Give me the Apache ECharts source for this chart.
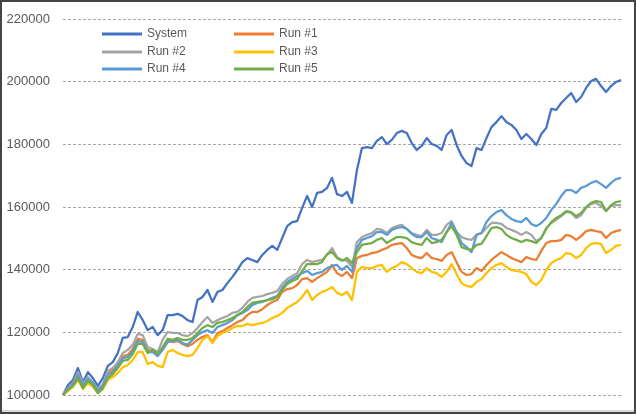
<!DOCTYPE html>
<html>
<head>
<meta charset="utf-8">
<script src="https://cdn.jsdelivr.net/npm/echarts@6/dist/echarts.min.js"></script>
<style>
html,body{margin:0;padding:0;background:#fff;}
#wrap{position:relative;width:636px;height:414px;overflow:hidden;}
#chart{position:absolute;left:0;top:0;width:636px;height:414px;}
#frame{position:absolute;left:0;top:0;width:636px;height:414px;box-sizing:border-box;border:2px solid #444;pointer-events:none;}
#shade{position:absolute;left:2px;bottom:2px;width:632px;height:2px;background:#d9d9d9;pointer-events:none;}
</style>
</head>
<body>
<div id="wrap"><div id="chart"></div><div id="shade"></div><div id="frame"></div></div>
<script>
// values in thousands
const systemK = [100.0,103.2,104.8,108.6,104.1,107.3,105.4,102.9,105.4,109.3,
110.5,113.4,118.2,118.5,121.7,126.5,123.9,120.7,121.7,119.1,
120.7,125.5,125.5,125.9,125.2,123.9,123.3,130.3,131.3,133.5,
129.7,132.9,133.5,135.7,137.7,139.9,142.4,143.7,143.1,142.4,
144.7,146.3,147.6,146.3,150.1,153.9,155.2,155.5,159.7,163.5,
160.0,164.5,164.8,166.1,169.3,164.1,163.5,164.8,161.3,171.8,
178.8,179.1,178.8,181.1,182.3,180.1,181.4,183.6,184.3,183.6,
180.4,178.2,179.5,182.0,180.1,179.5,178.2,183.0,184.6,179.8,
176.3,174.0,173.1,178.8,178.2,182.0,185.5,187.1,189.0,187.1,
186.2,184.6,181.7,183.3,181.7,179.8,183.3,185.2,191.3,191.0,
193.2,194.8,196.4,193.5,195.1,198.0,200.2,200.9,198.6,196.7,
198.6,199.9,200.5];
const run1K = [100.0,102.2,103.8,107.0,103.2,105.4,103.8,101.6,103.2,107.0,
108.0,109.9,112.4,112.8,114.7,117.9,117.6,114.4,114.0,112.8,
115.0,117.6,116.9,117.2,116.3,115.6,116.3,117.6,118.5,119.1,
116.9,119.8,120.4,121.4,122.3,123.3,123.9,125.5,126.5,126.5,
127.4,128.7,129.7,130.3,132.9,133.8,134.1,135.1,137.0,137.3,
136.1,137.3,138.3,139.3,141.5,138.9,138.0,139.3,137.3,143.7,
144.4,144.7,145.3,145.6,146.3,146.9,147.9,148.2,148.5,146.9,
144.7,144.0,143.7,145.3,143.7,143.4,142.8,144.7,145.6,142.4,
139.3,138.3,138.6,140.5,139.6,141.5,143.1,144.4,145.6,144.7,
143.7,143.1,142.4,144.0,143.4,143.1,146.0,148.5,149.1,149.1,
149.5,151.1,150.7,149.5,150.7,152.3,152.7,152.3,152.0,150.1,
151.7,152.3,152.7];
const run2K = [100.0,102.2,103.8,107.3,103.5,105.7,104.1,101.9,103.5,107.7,
108.6,110.5,113.4,114.4,116.0,119.5,119.1,115.3,114.7,113.7,
117.6,120.1,119.8,119.8,119.1,118.8,119.8,121.4,123.3,124.9,
123.0,123.9,124.6,125.2,126.2,126.5,127.8,129.7,131.0,131.3,
131.6,132.2,132.6,133.2,135.4,137.0,138.0,138.9,141.8,143.1,
142.4,142.8,143.1,144.7,146.9,144.0,143.1,142.8,140.9,148.8,
150.4,151.1,151.7,153.0,152.7,151.7,153.3,153.9,154.3,153.0,
151.7,151.1,150.7,152.7,151.1,151.1,151.7,154.3,155.5,152.0,
150.4,149.8,149.5,151.1,151.7,153.3,154.9,154.9,154.6,153.3,
152.7,152.0,151.1,152.0,151.1,149.1,150.1,153.3,154.9,155.9,
157.1,158.4,158.1,156.5,157.4,159.7,161.0,161.3,160.3,158.7,
160.3,160.6,160.6];
const run3K = [100.0,101.3,102.6,104.8,101.9,103.8,102.6,100.6,101.9,104.8,
105.7,107.0,108.9,109.6,111.2,113.7,113.7,109.9,110.5,109.3,
108.9,113.7,114.4,113.4,112.8,112.4,112.8,115.0,117.6,118.8,
116.6,118.8,119.8,120.4,121.4,122.0,122.0,122.7,122.3,122.7,
123.0,123.6,124.6,125.2,126.2,127.8,128.7,129.7,131.3,133.5,
130.3,131.9,132.9,133.5,134.5,132.6,131.9,132.9,130.3,139.3,
140.9,140.5,140.5,141.2,141.5,139.3,140.5,141.2,142.4,141.8,
140.5,139.3,138.9,140.5,139.3,138.9,137.7,139.3,141.8,138.6,
135.7,134.8,134.5,136.1,137.0,138.9,140.5,141.5,142.1,140.9,
139.9,139.6,139.3,138.6,136.1,135.1,136.7,139.9,142.1,143.1,
143.7,145.3,145.0,143.7,144.7,146.9,148.2,148.5,148.2,145.3,
146.3,147.6,147.9];
const run4K = [100.0,101.9,103.5,106.4,102.9,105.1,103.8,101.3,102.9,106.4,
107.3,109.3,111.8,112.1,114.0,117.2,116.9,113.7,113.7,112.4,
114.4,116.9,117.2,117.6,116.6,116.0,117.6,119.1,120.1,120.7,
119.8,121.7,122.3,123.0,123.9,125.5,126.2,127.1,128.7,129.4,
129.7,130.3,131.0,131.6,134.1,136.1,137.0,138.0,138.9,139.6,
138.3,138.9,139.3,140.5,141.2,141.5,139.9,141.2,139.3,146.9,
149.5,150.1,150.7,152.0,152.0,151.1,152.7,153.3,153.6,153.0,
151.4,150.4,150.4,152.0,150.1,149.5,148.8,152.0,154.9,152.0,
148.5,147.2,145.6,151.1,151.7,155.2,157.1,158.4,159.0,157.4,
156.2,155.5,155.2,156.5,154.6,153.9,154.9,156.5,159.0,161.0,
163.5,165.4,165.4,164.5,166.1,166.7,167.7,168.3,167.3,166.1,
167.7,168.9,169.3];
const run5K = [100.0,101.6,102.9,105.4,102.2,104.5,103.2,100.6,102.2,105.4,
106.7,108.6,110.9,111.2,113.1,116.3,116.3,113.4,114.4,113.1,
115.3,117.9,117.6,118.2,117.6,117.6,118.2,119.8,121.4,122.3,
121.7,123.0,123.3,123.9,124.6,125.5,126.5,128.1,129.4,129.7,
130.0,130.3,130.6,131.3,133.5,135.4,136.4,137.0,139.6,141.8,
141.8,141.8,142.4,145.0,145.6,143.7,142.8,143.7,142.1,145.6,
147.9,148.2,148.5,149.5,150.1,148.5,149.5,150.4,150.4,150.1,
148.8,148.2,147.9,150.1,148.5,148.8,149.5,152.0,153.9,151.1,
147.2,146.6,146.3,147.9,148.2,150.7,153.3,153.6,153.0,151.1,
150.1,149.5,148.8,149.5,149.1,148.5,150.1,153.0,155.2,156.5,
157.4,158.7,158.4,157.1,158.1,160.0,161.3,161.9,161.6,158.7,
160.6,161.6,161.9];
const seriesNames = ['System','Run #1','Run #2','Run #3','Run #4','Run #5'];
const seriesColors = ['#4472C4','#ED7D31','#A5A5A5','#FFC000','#5B9BD5','#70AD47'];
const yTicks = [100000,120000,140000,160000,180000,200000,220000];

const allK = [systemK, run1K, run2K, run3K, run4K, run5K];
const categories = systemK.map((_, i) => String(i + 1));

// legend slots: [left, top] for each series (2 columns x 3 rows)
const legendLeft = [102, 234, 102, 234, 102, 234];
const legendTop = [27, 27, 45, 45, 62, 62];

const chart = echarts.init(document.getElementById('chart'), null, {renderer: 'canvas'});
chart.setOption({
  animation: false,
  backgroundColor: '#fff',
  grid: {left: 63, right: 15, top: 19, bottom: 19},
  legend: seriesNames.map((n, i) => ({
    left: legendLeft[i], top: legendTop[i], padding: 0,
    icon: 'rect', itemWidth: 40, itemHeight: 3, itemGap: 0,
    data: [n],
    textStyle: {color: '#595959', fontSize: 12, lineHeight: 14, fontFamily: 'Liberation Sans'}
  })),
  xAxis: {
    type: 'category', data: categories, boundaryGap: false,
    axisLine: {show: false}, axisTick: {show: false}, axisLabel: {show: false}, splitLine: {show: false}
  },
  yAxis: {
    type: 'value', min: yTicks[0], max: yTicks[yTicks.length - 1], interval: yTicks[1] - yTicks[0],
    axisLine: {show: false}, axisTick: {show: false},
    axisLabel: {color: '#595959', fontSize: 13, fontFamily: 'Liberation Sans', margin: 13,
      formatter: v => String(v)},
    splitLine: {lineStyle: {color: '#a6a6a6', type: [3, 2], width: 1}}
  },
  series: allK.map((arr, i) => ({
    name: seriesNames[i], type: 'line', data: arr.map(v => Math.round(v * 1000)),
    symbol: 'none', showSymbol: false, smooth: false,
    lineStyle: {color: seriesColors[i], width: 2.25, join: 'round'},
    itemStyle: {color: seriesColors[i]}
  }))
});
</script>
</body>
</html>
